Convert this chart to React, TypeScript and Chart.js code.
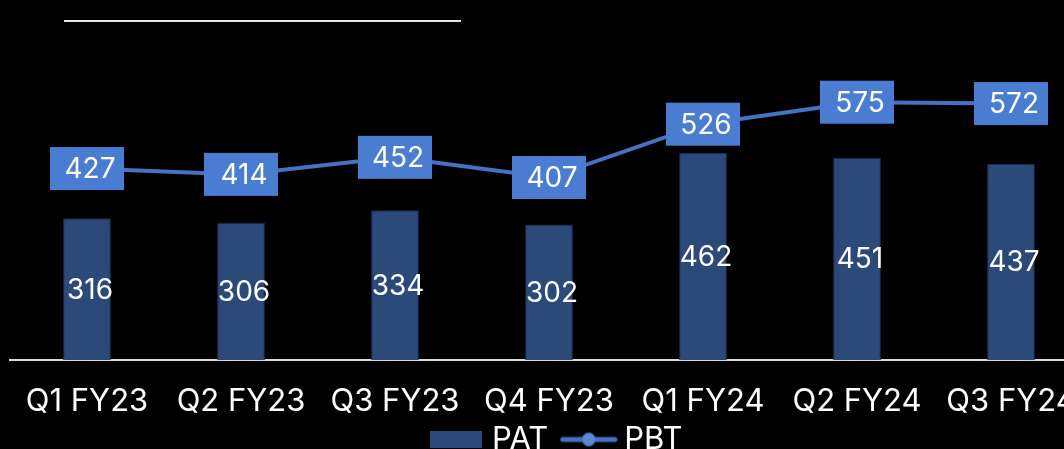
import React, { useEffect, useRef } from 'react';
import { Chart, registerables } from 'chart.js';

Chart.register(...registerables);

const categories = ['Q1 FY23', 'Q2 FY23', 'Q3 FY23', 'Q4 FY23', 'Q1 FY24', 'Q2 FY24', 'Q3 FY24'];
const patValues = [316, 306, 334, 302, 462, 451, 437];
const pbtValues = [427, 414, 452, 407, 526, 575, 572];

const BAR_COLOR = '#2B4A7A';
const BAR_BORDER = '#1C2E4F';
const LINE_COLOR = '#4472C4';
const BOX_COLOR = '#4A7DD2';
const FONT = 'Inter, Roboto, sans-serif';
const FS = 28;
const TICK_FS = 31;
const LEGEND_FS = 31;

function makeBarIcon() {
  const c = document.createElement('canvas');
  c.width = 52; c.height = 17;
  const g = c.getContext('2d')!;
  g.fillStyle = BAR_COLOR;
  g.fillRect(0, 0, 52, 17);
  return c;
}
function makeLineIcon() {
  const c = document.createElement('canvas');
  c.width = 58; c.height = 16;
  const g = c.getContext('2d')!;
  g.strokeStyle = LINE_COLOR;
  g.lineWidth = 5;
  g.lineCap = 'round';
  g.beginPath(); g.moveTo(3, 8); g.lineTo(55, 8); g.stroke();
  g.fillStyle = '#5B8AD2';
  g.strokeStyle = LINE_COLOR;
  g.lineWidth = 1;
  g.beginPath(); g.arc(29, 8, 6.5, 0, Math.PI * 2); g.fill(); g.stroke();
  return c;
}

const labelPlugin = {
  id: 'valueLabels',
  afterDatasetsDraw(chart: any) {
    const ctx = chart.ctx;
    ctx.save();
    ctx.font = `${FS}px ${FONT}`;
    ctx.textAlign = 'center';
    ctx.textBaseline = 'middle';
    const barMeta = chart.getDatasetMeta(0);
    barMeta.data.forEach((el: any, i: number) => {
      const p = el.getProps(['x', 'y', 'base'], true);
      ctx.fillStyle = '#FFFFFF';
      ctx.fillText(String(patValues[i]), p.x + 3, (p.y + p.base) / 2 + 1);
    });
    const lineMeta = chart.getDatasetMeta(1);
    lineMeta.data.forEach((el: any, i: number) => {
      const p = el.getProps(['x', 'y'], true);
      ctx.fillStyle = BOX_COLOR;
      ctx.fillRect(p.x - 37, p.y - 21.5, 74, 43);
      ctx.fillStyle = '#FFFFFF';
      ctx.fillText(String(pbtValues[i]), p.x + 3, p.y + 1);
    });
    ctx.restore();
  },
};

export default function App() {
  const ref = useRef<HTMLCanvasElement>(null);
  useEffect(() => {
    if (!ref.current) return;
    const barIcon = makeBarIcon();
    const lineIcon = makeLineIcon();
    const chart = new Chart(ref.current, {
      type: 'bar',
      data: {
        labels: categories,
        datasets: [
          {
            type: 'bar',
            label: 'PAT',
            data: patValues,
            backgroundColor: BAR_COLOR,
            borderColor: BAR_BORDER,
            borderWidth: 1,
            barPercentage: 0.31,
            categoryPercentage: 1,
            order: 2,
          },
          {
            type: 'line',
            label: 'PBT',
            data: pbtValues,
            borderColor: LINE_COLOR,
            backgroundColor: LINE_COLOR,
            borderWidth: 4,
            pointRadius: 0,
            tension: 0,
            order: 1,
          },
        ],
      },
      options: {
        responsive: false,
        animation: false,
        layout: { padding: { left: 10, right: 0, top: 0, bottom: 0 } },
        scales: {
          x: {
            grid: { display: false, drawTicks: false },
            border: { display: true, color: '#D9D9D9', width: 2 },
            ticks: { color: '#FFFFFF', font: { family: FONT, size: TICK_FS }, padding: 23, maxRotation: 0, autoSkip: false },
            afterFit: (s: any) => { s.height = 59; },
          },
          y: {
            display: true,
            position: 'right',
            min: 0,
            max: 803,
            grid: { display: false, drawTicks: false },
            border: { display: false },
            ticks: { display: false },
            afterFit: (s: any) => { s.width = 21; },
          },
        },
        plugins: {
          tooltip: { enabled: false },
          legend: {
            position: 'bottom',
            labels: {
              color: '#FFFFFF',
              font: { family: FONT, size: LEGEND_FS },
              usePointStyle: true,
              pointStyleWidth: 40,
              boxHeight: 17,
              padding: 5,
              generateLabels: () => [
                { text: 'PAT\u2002', pointStyle: barIcon, fillStyle: BAR_COLOR, strokeStyle: BAR_COLOR, lineWidth: 0, fontColor: '#FFFFFF', datasetIndex: 0, hidden: false },
                { text: 'PBT', pointStyle: lineIcon, fillStyle: LINE_COLOR, strokeStyle: LINE_COLOR, lineWidth: 0, fontColor: '#FFFFFF', datasetIndex: 1, hidden: false },
              ],
            },
          },
        },
      },
      plugins: [labelPlugin],
    });
    return () => chart.destroy();
  }, []);

  return (
    <div style={{ position: 'absolute', left: 0, top: 0, width: 1064, height: 449, overflow: 'hidden', background: '#000' }}>
      <div style={{ position: 'absolute', left: 64, top: 20, width: 397, height: 2, background: '#E6E6E6' }} />
      <canvas ref={ref} width={1109} height={465} style={{ display: 'block', position: 'absolute', left: 0, top: 0 }} />
    </div>
  );
}
